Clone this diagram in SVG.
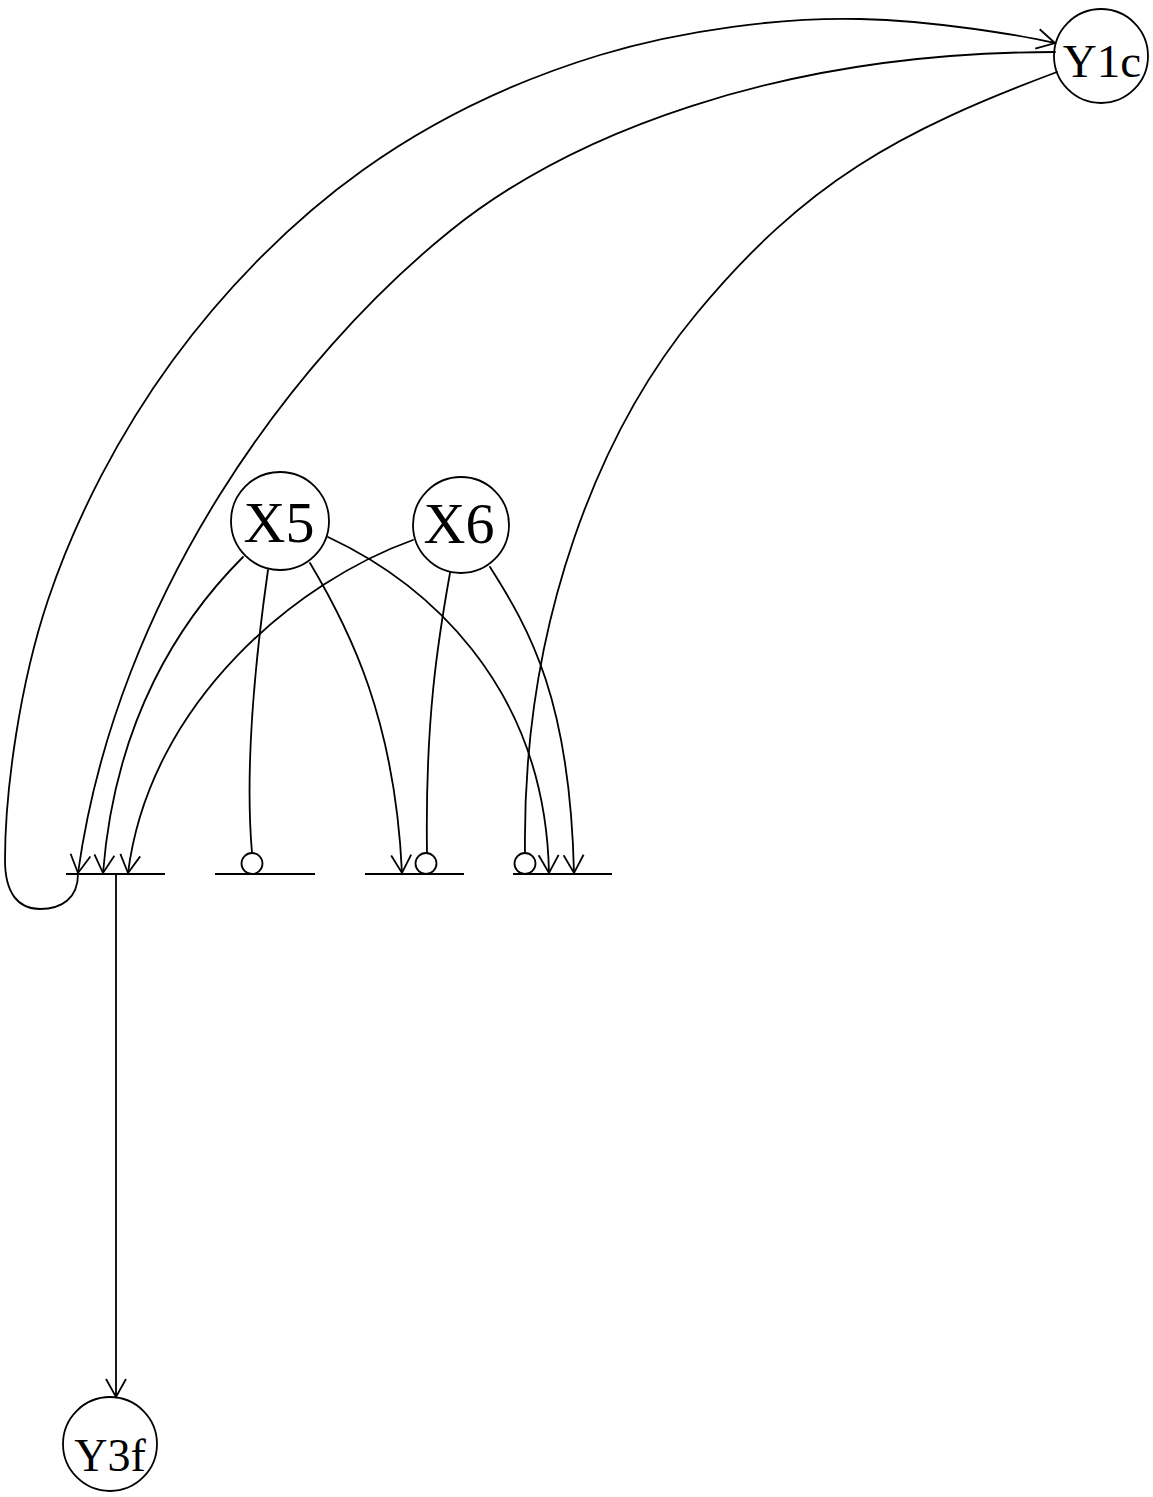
<svg xmlns="http://www.w3.org/2000/svg" width="1153" height="1497" viewBox="0 0 1153 1497">
<style>
.node{fill:none;stroke:#000;stroke-width:1.8}
.lbl{font-family:"Liberation Serif","Times New Roman",serif;fill:#000;text-anchor:middle}
.edge{fill:none;stroke:#000;stroke-width:1.8;stroke-linecap:round}
.bar{fill:none;stroke:#000;stroke-width:2}
.dot{fill:#fff;stroke:#000;stroke-width:1.8}
</style>
<defs>
<marker id="arr" viewBox="-22 -13 24 26" markerUnits="userSpaceOnUse" markerWidth="24" markerHeight="26" refX="0" refY="0" orient="auto" overflow="visible">
<path d="M-18,-10 L0,0 L-18,10" fill="none" stroke="#000" stroke-width="1.8" stroke-linejoin="miter"/>
</marker>
</defs>
<rect width="1153" height="1497" fill="#fff"/>
<g id="Y1c"><circle class="node" cx="1101" cy="56" r="47"/><text class="lbl" x="1102" y="77" font-size="47">Y1c</text></g>
<g id="X5"><circle class="node" cx="280" cy="521" r="49"/><text class="lbl" x="279" y="542" font-size="58">X5</text></g>
<g id="X6"><circle class="node" cx="461" cy="525" r="48"/><text class="lbl" x="459" y="543" font-size="58">X6</text></g>
<g id="Y3f"><circle class="node" cx="110" cy="1444" r="47"/><text class="lbl" x="110" y="1471" font-size="46">Y3f</text></g>
<g id="junctions">
<line class="bar" x1="66" y1="874" x2="165" y2="874"/>
<line class="bar" x1="215" y1="874" x2="315" y2="874"/>
<line class="bar" x1="365" y1="874" x2="464" y2="874"/>
<line class="bar" x1="513" y1="874" x2="612" y2="874"/>
</g>
<g id="connectors">
<path class="edge" marker-end="url(#arr)" d="M78,874 C78,898 62,909 40,909 C18,909 5,893 5,860 C5,790 20,683.3 48,600 C76,516.7 120.5,431.7 173,360 C225.5,288.3 291.8,220.8 363,170 C434.2,119.2 517.2,80.2 600,55 C682.8,29.8 784.2,17 860,19 C935.8,21 1020,35 1055,43"/>
<path class="edge" marker-end="url(#arr)" d="M1055,52 C775,52 567,136.5 450,231 C294,357 117,593 78,873"/>
<path class="edge" d="M1057,72 C897,132 805.8,182.1 697,313 C601,428.5 522,620 525,853"/>
<circle class="dot" cx="525" cy="863.5" r="10.5"/>
<path class="edge" d="M268,570 C258,640 244,760 252,853"/>
<circle class="dot" cx="252" cy="863.5" r="10.5"/>
<path class="edge" marker-end="url(#arr)" d="M310,563 C350,630 395,720 402,873"/>
<path class="edge" marker-end="url(#arr)" d="M243,557 C180,620 115,720 103,873"/>
<path class="edge" marker-end="url(#arr)" d="M328,537 C420,580 545,680 549,873"/>
<path class="edge" marker-end="url(#arr)" d="M413,540 C300,580 150,700 128,873"/>
<path class="edge" d="M450,573 C438,640 425,720 427,853"/>
<circle class="dot" cx="426" cy="863.5" r="10.5"/>
<path class="edge" marker-end="url(#arr)" d="M490,567 C530,630 570,700 574,873"/>
<path class="edge" marker-end="url(#arr)" d="M116,874 L116,1397"/>
</g>
</svg>
